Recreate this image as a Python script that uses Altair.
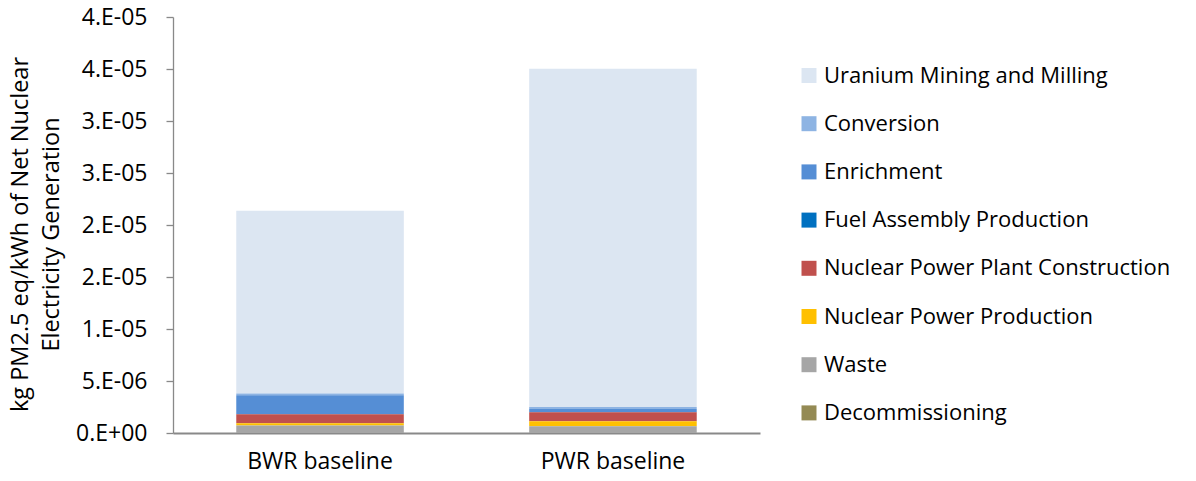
import altair as alt
import pandas as pd

categories = ["BWR baseline", "PWR baseline"]
stages = [
    "Uranium Mining and Milling",
    "Conversion",
    "Enrichment",
    "Fuel Assembly Production",
    "Nuclear Power Plant Construction",
    "Nuclear Power Production",
    "Waste",
    "Decommissioning",
]
colors = ["#DCE6F2", "#8EB4E3", "#558ED5", "#0070C0", "#C0504D", "#FFC000", "#A6A6A6", "#948A54"]

bwr_values = [1.757e-5, 1.9e-7, 1.8e-6, 2e-8, 8.7e-7, 2.2e-7, 7.0e-7, 1e-8]
pwr_values = [3.253e-5, 1.9e-7, 2.9e-7, 2e-8, 8.7e-7, 4.8e-7, 6.4e-7, 1e-8]

tick_values = [0, 5e-6, 1e-5, 1.5e-5, 2e-5, 2.5e-5, 3e-5, 3.5e-5, 4e-5]
tick_labels = ["0.E+00", "5.E-06", "1.E-05", "2.E-05", "2.E-05", "3.E-05", "3.E-05", "4.E-05", "4.E-05"]

rows = []
for cat, vals in zip(categories, [bwr_values, pwr_values]):
    for i, (s, v) in enumerate(zip(stages, vals)):
        rows.append({"case": cat, "stage": s, "value": v, "stack": len(stages) - 1 - i})
df = pd.DataFrame(rows)

# label expression from the tick lists
expr = "''"
for v, lab in reversed(list(zip(tick_values, tick_labels))):
    expr = f"abs(datum.value - {v}) < 1e-7 ? '{lab}' : ({expr})"

FONT = "Open Sans"

chart = alt.Chart(df).mark_bar().encode(
    x=alt.X("case:N", sort=categories,
            scale=alt.Scale(paddingInner=0.428, paddingOuter=0.216),
            axis=alt.Axis(title=None, labelAngle=0, labelFontSize=23, labelFont=FONT,
                          labelColor="#000000", labelPadding=17, ticks=False,
                          domainColor="#898989", domainWidth=2)),
    y=alt.Y("value:Q", stack="zero",
            scale=alt.Scale(domain=[0, 4e-5], nice=False),
            axis=alt.Axis(values=tick_values, labelExpr=expr, grid=False,
                          labelFontSize=23, labelFont=FONT, labelColor="#000000",
                          labelPadding=19, tickSize=7, tickColor="#898989",
                          domainColor="#898989", domainWidth=1.3, tickWidth=1.3,
                          title=["kg PM2.5 eq/kWh of Net Nuclear", "Electricity Generation"],
                          titleFont=FONT, titleFontSize=23.5, titleFontWeight="normal",
                          titleColor="#000000", titleLineHeight=31,
                          titleX=-146, titleY=217, titleAlign="center",
                          titleBaseline="alphabetic")),
    color=alt.Color("stage:N",
                    scale=alt.Scale(domain=stages, range=colors),
                    legend=alt.Legend(title=None, orient="none", legendX=625, legendY=47.5,
                                      symbolType="square", symbolSize=225,
                                      symbolStrokeWidth=0, labelFontSize=22,
                                      labelFont=FONT, labelColor="#000000",
                                      labelOffset=4, rowPadding=26.2, labelLimit=500)),
    order=alt.Order("stack:Q", sort="ascending"),
).properties(
    width=587, height=416,
    autosize=alt.AutoSizeParams(type="none"),
    padding={"left": 165, "top": 9, "right": 428, "bottom": 40},
).configure_view(stroke=None)

chart.save("out.html", embed_options={"renderer": "svg", "actions": False})
